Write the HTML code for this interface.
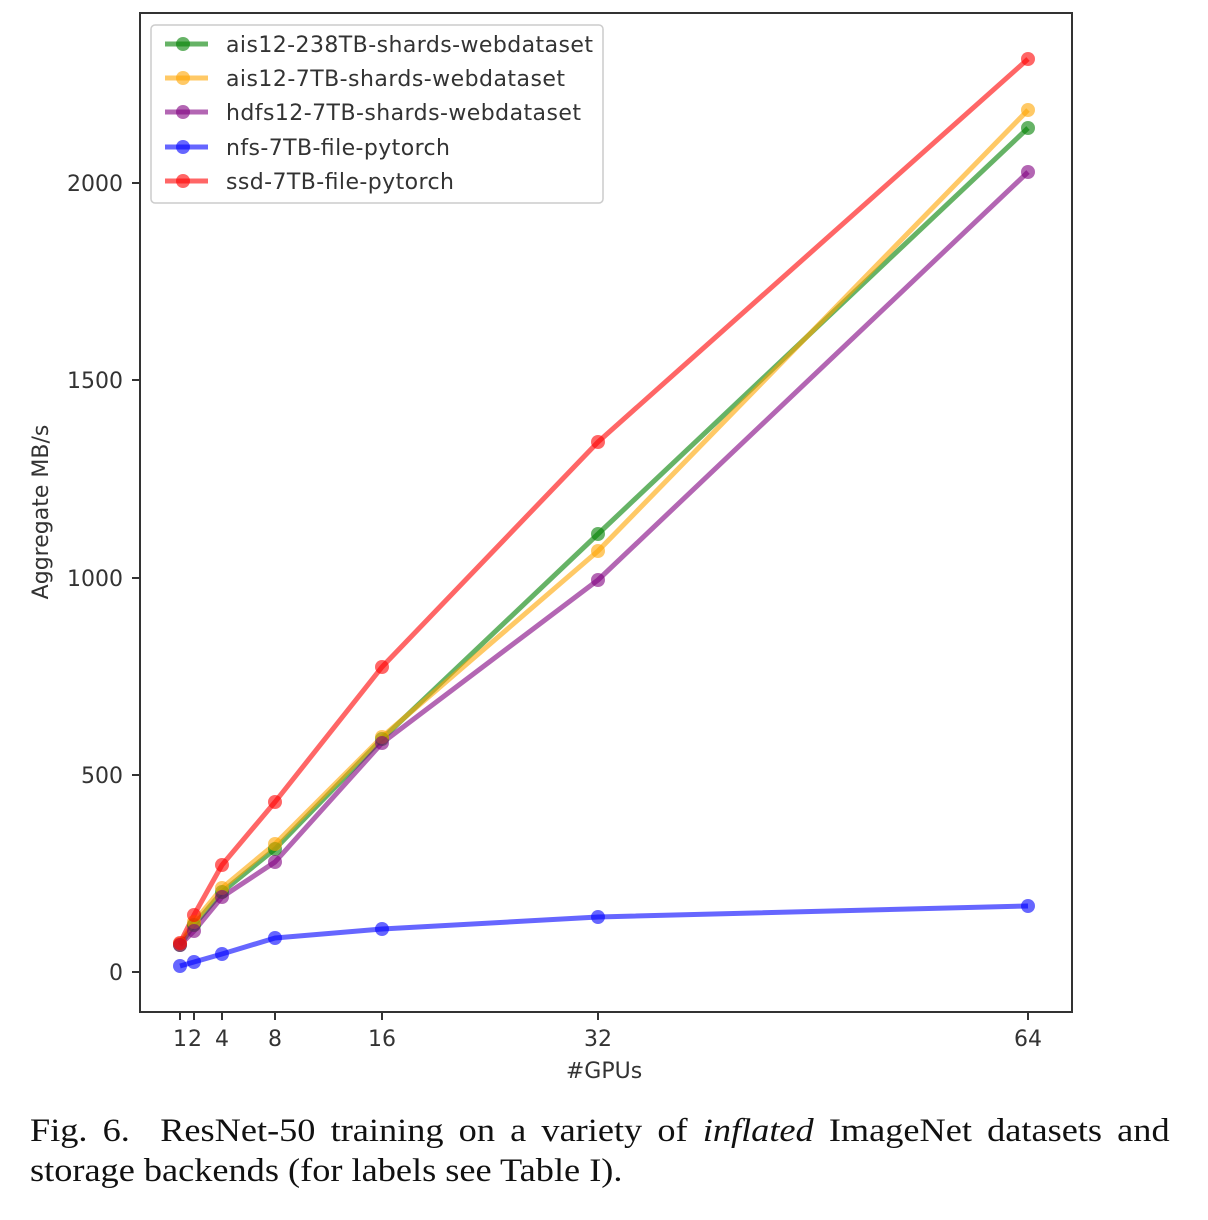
<!DOCTYPE html>
<html><head><style>
html,body{margin:0;padding:0;background:#fff;width:1208px;height:1220px;overflow:hidden}
.cap{position:absolute;left:30px;top:1111px;width:1036px;transform:scaleX(1.1);transform-origin:0 0;font-family:"Liberation Serif",serif;font-size:33px;line-height:40px;color:#111}
.cap .l1{display:block;text-align:justify;text-align-last:justify;white-space:nowrap}
.cap .l1{white-space:normal}
</style></head><body>
<svg width="1208" height="1100" style="position:absolute;left:0;top:0" font-family="DejaVu Sans, sans-serif">
<rect x="140" y="13" width="932" height="999" fill="none" stroke="#333" stroke-width="2"/>
<g stroke="#333" stroke-width="2">
<line x1="132" y1="183" x2="140" y2="183"/><line x1="132" y1="380" x2="140" y2="380"/><line x1="132" y1="578" x2="140" y2="578"/><line x1="132" y1="775" x2="140" y2="775"/><line x1="132" y1="972" x2="140" y2="972"/>
<line x1="180" y1="1012" x2="180" y2="1020"/><line x1="194" y1="1012" x2="194" y2="1020"/><line x1="222" y1="1012" x2="222" y2="1020"/><line x1="275" y1="1012" x2="275" y2="1020"/><line x1="382" y1="1012" x2="382" y2="1020"/><line x1="598" y1="1012" x2="598" y2="1020"/><line x1="1028" y1="1012" x2="1028" y2="1020"/>
</g>
<g font-size="22" fill="#333" text-anchor="end">
<text x="123" y="191">2000</text><text x="123" y="388">1500</text><text x="123" y="586">1000</text><text x="123" y="783">500</text><text x="123" y="980">0</text>
</g>
<g font-size="22" fill="#333" text-anchor="middle">
<text x="180" y="1046">1</text><text x="195" y="1046">2</text><text x="222" y="1046">4</text><text x="275" y="1046">8</text><text x="382" y="1046">16</text><text x="598" y="1046">32</text><text x="1028" y="1046">64</text>
<text x="604" y="1078">#GPUs</text>
<text transform="translate(48,512) rotate(-90)">Aggregate MB/s</text>
</g>
<g stroke-width="5" fill="none" stroke-opacity="0.6" stroke-linejoin="round">
<polyline stroke="green" points="180,945 194,925 222,892 275,849 382,739 598,534 1028,128"/>
<polyline stroke="orange" points="180,944 194,922 222,888 275,844 382,737 598,551 1028,110"/>
<polyline stroke="purple" points="180,945 194,931 222,897 275,862 382,743 598,580 1028,172"/>
<polyline stroke="blue" points="180,966 194,962 222,954 275,938 382,929 598,917 1028,906"/>
<polyline stroke="red" points="180,943 194,915 222,865 275,802 382,667 598,442 1028,59"/>
</g>
<g fill-opacity="0.6">
<g fill="green"><circle cx="180" cy="945" r="7"/><circle cx="194" cy="925" r="7"/><circle cx="222" cy="892" r="7"/><circle cx="275" cy="849" r="7"/><circle cx="382" cy="739" r="7"/><circle cx="598" cy="534" r="7"/><circle cx="1028" cy="128" r="7"/></g>
<g fill="orange"><circle cx="180" cy="944" r="7"/><circle cx="194" cy="922" r="7"/><circle cx="222" cy="888" r="7"/><circle cx="275" cy="844" r="7"/><circle cx="382" cy="737" r="7"/><circle cx="598" cy="551" r="7"/><circle cx="1028" cy="110" r="7"/></g>
<g fill="purple"><circle cx="180" cy="945" r="7"/><circle cx="194" cy="931" r="7"/><circle cx="222" cy="897" r="7"/><circle cx="275" cy="862" r="7"/><circle cx="382" cy="743" r="7"/><circle cx="598" cy="580" r="7"/><circle cx="1028" cy="172" r="7"/></g>
<g fill="blue"><circle cx="180" cy="966" r="7"/><circle cx="194" cy="962" r="7"/><circle cx="222" cy="954" r="7"/><circle cx="275" cy="938" r="7"/><circle cx="382" cy="929" r="7"/><circle cx="598" cy="917" r="7"/><circle cx="1028" cy="906" r="7"/></g>
<g fill="red"><circle cx="180" cy="943" r="7"/><circle cx="194" cy="915" r="7"/><circle cx="222" cy="865" r="7"/><circle cx="275" cy="802" r="7"/><circle cx="382" cy="667" r="7"/><circle cx="598" cy="442" r="7"/><circle cx="1028" cy="59" r="7"/></g>
</g>
<rect x="151" y="25" width="452" height="178" rx="4" fill="#fff" fill-opacity="0.8" stroke="#ccc" stroke-width="1.5"/>
<g stroke-width="5" stroke-opacity="0.6">
<line x1="165" y1="44" x2="208" y2="44" stroke="green"/><line x1="165" y1="78" x2="208" y2="78" stroke="orange"/><line x1="165" y1="112" x2="208" y2="112" stroke="purple"/><line x1="165" y1="147" x2="208" y2="147" stroke="blue"/><line x1="165" y1="181" x2="208" y2="181" stroke="red"/>
</g>
<g fill-opacity="0.6"><circle cx="183" cy="44" r="7" fill="green"/><circle cx="183" cy="78" r="7" fill="orange"/><circle cx="183" cy="112" r="7" fill="purple"/><circle cx="183" cy="147" r="7" fill="blue"/><circle cx="183" cy="181" r="7" fill="red"/></g>
<g font-size="22" fill="#333">
<text x="226" y="52" textLength="367">ais12-238TB-shards-webdataset</text>
<text x="226" y="86" textLength="339">ais12-7TB-shards-webdataset</text>
<text x="226" y="120" textLength="355">hdfs12-7TB-shards-webdataset</text>
<text x="226" y="155" textLength="224">nfs-7TB-file-pytorch</text>
<text x="226" y="189" textLength="228">ssd-7TB-file-pytorch</text>
</g>
</svg>
<div class="cap"><span class="l1">Fig.&nbsp;6.&nbsp;&nbsp;ResNet-50 training on a variety of <i>inflated</i> ImageNet datasets and</span>storage backends (for labels see Table I).</div>
</body></html>
